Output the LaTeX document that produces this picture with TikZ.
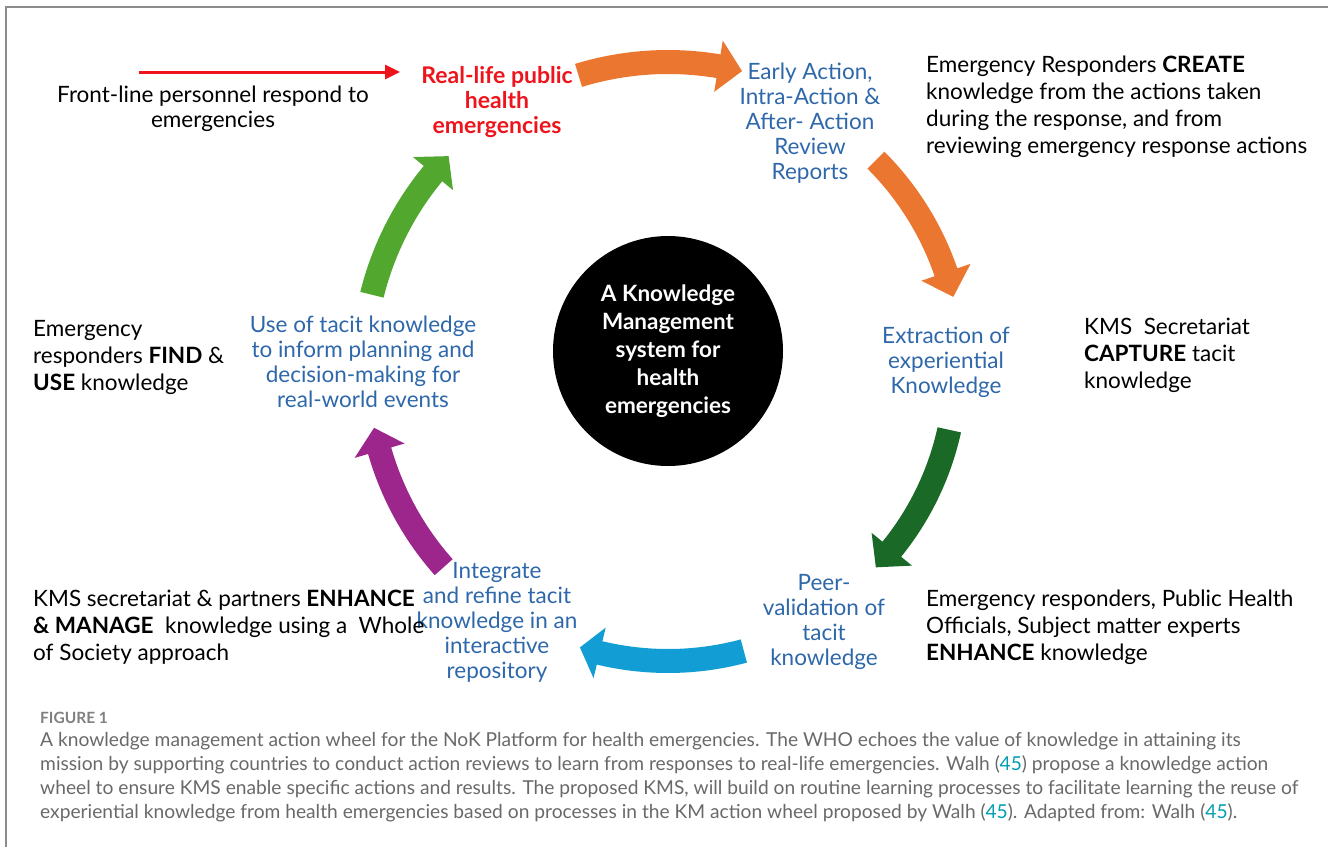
\documentclass[tikz,border=0pt]{standalone}
\usepackage{fontspec}
\setmainfont{Lato}
\usetikzlibrary{arrows.meta}

\definecolor{txtblue}{RGB}{46,104,170}
\definecolor{hotred}{RGB}{238,20,28}
\definecolor{arrorange}{RGB}{234,118,48}
\definecolor{arrdkgreen}{RGB}{27,105,38}
\definecolor{arrltgreen}{RGB}{82,168,46}
\definecolor{arrblue}{RGB}{18,158,212}
\definecolor{arrpurple}{RGB}{156,38,140}
\definecolor{capgray}{RGB}{105,105,105}
\definecolor{citeteal}{RGB}{0,158,178}
\definecolor{framegray}{RGB}{140,140,140}

% curved band arrow on a circle: colour, cx, cy, radius, tail angle, head-base angle, tip angle
\newcommand{\wheelarrow}[7]{%
  \fill[#1] plot[domain=#5:#6, samples=40] ({#2+(#4+12)*cos(\x)},{#3+(#4+12)*sin(\x)})
    -- ({#2+(#4+26)*cos(#6)},{#3+(#4+26)*sin(#6)})
    -- ({#2+#4*cos(#7)},{#3+#4*sin(#7)})
    -- ({#2+(#4-26)*cos(#6)},{#3+(#4-26)*sin(#6)})
    -- plot[domain=#6:#5, samples=40] ({#2+(#4-12)*cos(\x)},{#3+(#4-12)*sin(\x)})
    -- cycle;}

\tikzset{
  plain/.style={inner sep=0pt, font=\fontsize{22.5}{27}\selectfont, align=left, anchor=west},
  stage/.style={inner sep=0pt, font=\fontsize{22.5}{25}\selectfont, align=center, text=txtblue},
  captionline/.style={inner sep=0pt, anchor=west, text=capgray, font=\fontsize{19.2}{24}\selectfont},
}

\begin{document}
\begin{tikzpicture}[x=1pt, y=-1pt]
\useasboundingbox (0,0) rectangle (1328,847);

% frame
\draw[framegray, line width=2pt] (6,847) -- (6,7) -- (1328,7);

% wheel arrows
\wheelarrow{arrorange}{668}{368}{306}{-107}{-80.5}{-76}
\wheelarrow{arrorange}{668}{368}{294}{-45}{-19}{-14}
\wheelarrow{arrdkgreen}{668}{368}{288}{12.4}{39}{43.8}
\wheelarrow{arrblue}{668}{368}{293}{75}{103.5}{107.5}
\wheelarrow{arrpurple}{668}{368}{300}{138.4}{164}{168.5}
\wheelarrow{arrltgreen}{668}{368}{305}{193.9}{219.6}{224}

% hub
\node[circle, fill=black, minimum size=230pt, inner sep=0pt] (hub) at (668,351) {};
\node[text=white, align=center, inner sep=0pt, font=\fontsize{22.5}{28}\selectfont\bfseries] (hubtext) at (668,351)
  {A Knowledge\\Management\\system for\\health\\emergencies};

% stage labels on the wheel
\node[inner sep=0pt, align=center, text=hotred, font=\fontsize{23}{25}\selectfont\bfseries] (real) at (497,102)
  {Real-life public\\health\\emergencies};
\node[stage] (reports) at (810,123) {Early Action,\\Intra-Action \&\\After- Action\\Review\\Reports};
\node[stage] (extract) at (946,362) {Extraction of\\experiential\\Knowledge};
\node[stage] (peer) at (824,621.5) {Peer-\\validation of\\tacit\\knowledge};
\node[stage] (integrate) at (497,622) {Integrate\\and refine tacit\\knowledge in an\\interactive\\repository};
\node[stage] (usetacit) at (363,362) {Use of tacit knowledge\\to inform planning and\\decision-making for\\real-world events};

% actor descriptions
\node[inner sep=0pt, align=center, font=\fontsize{22.5}{25}\selectfont] (front) at (213,108.5)
  {Front-line personnel respond to\\emergencies};
\node[plain] (create) at (926,107) {Emergency Responders \textbf{CREATE}\\knowledge from the actions taken\\during the response, and from\\reviewing emergency response actions};
\node[plain] (capture) at (1084,355) {KMS~ Secretariat\\\textbf{CAPTURE} tacit\\knowledge};
\node[plain] (enhright) at (926,627) {Emergency responders, Public Health\\Officials, Subject matter experts\\\textbf{ENHANCE} knowledge};
\node[plain] (enhleft) at (33,627.5) {KMS secretariat \& partners \textbf{ENHANCE}\\\textbf{\& MANAGE}~ knowledge using a~ Whole\\of Society approach};
\node[plain] (find) at (33,357) {Emergency\\responders \textbf{FIND} \&\\\textbf{USE} knowledge};

% front-line arrow into the emergencies label
\coordinate (frontstart) at (139,72);
\coordinate (frontend) at (400,72);
\draw[hotred, line width=3pt, -{Stealth[length=15pt, width=14pt, inset=0pt]}] (frontstart) -- (frontend);

% caption
\node[captionline, font=\fontsize{15.5}{18}\selectfont\bfseries, text=capgray!85] (figlabel) at (40,718) {FIGURE 1};
\node[captionline] (cap1) at (40,741) {A knowledge management action wheel for the NoK Platform for health emergencies. The WHO echoes the value of knowledge in attaining its};
\node[captionline] (cap2) at (40,765) {mission by supporting countries to conduct action reviews to learn from responses to real-life emergencies. Walh (\textcolor{citeteal}{45}) propose a knowledge action};
\node[captionline] (cap3) at (40,789) {wheel to ensure KMS enable specific actions and results. The proposed KMS, will build on routine learning processes to facilitate learning the reuse of};
\node[captionline] (cap4) at (40,813) {experiential knowledge from health emergencies based on processes in the KM action wheel proposed by Walh (\textcolor{citeteal}{45}). Adapted from: Walh (\textcolor{citeteal}{45}).};
\end{tikzpicture}
\end{document}
